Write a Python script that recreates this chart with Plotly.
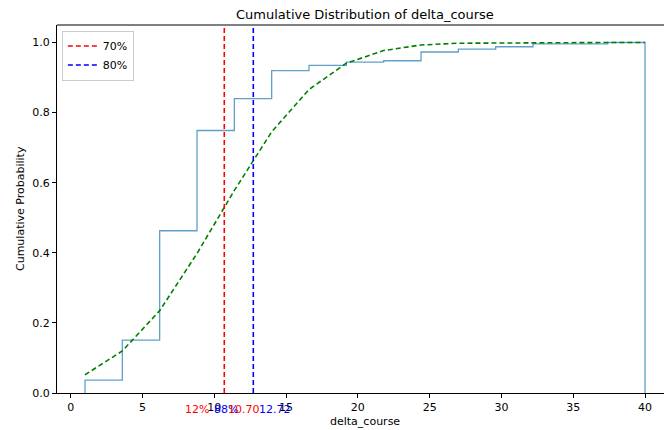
import plotly.graph_objects as go

# ---- data ----
bin_edges = [1.0, 3.6, 6.2, 8.8, 11.4, 14.0, 16.6, 19.2, 21.8, 24.4, 27.0, 29.6, 32.2, 34.8, 37.4, 40.0]
cum_prob = [0.037, 0.151, 0.463, 0.749, 0.840, 0.920, 0.935, 0.944, 0.948, 0.973, 0.981, 0.988, 0.996, 0.996, 1.0]
fit_cdf = [0.052, 0.120, 0.235, 0.398, 0.578, 0.745, 0.866, 0.941, 0.977, 0.993, 0.998, 0.999, 1.0, 1.0, 1.0, 1.0]
p70_value = 10.70
p80_value = 12.72
p70_label = "70%"
p80_label = "80%"
below_labels = ["12%", "88%", "10.70", "12.72"]

FONT = "DejaVu Sans"
Y_MAX = 1.05

# step path of the cumulative histogram (matplotlib histtype='step')
step_x = [bin_edges[0]] + bin_edges[:-1] + [bin_edges[-1], bin_edges[-1]]
step_y = [0.0] + cum_prob + [cum_prob[-1], 0.0]

fig = go.Figure()
fig.add_trace(go.Scatter(
    x=step_x, y=step_y, mode="lines", line_shape="hv",
    line=dict(color="rgba(31,119,180,0.7)", width=1.3),
    showlegend=False, hoverinfo="skip"))
fig.add_trace(go.Scatter(
    x=bin_edges, y=fit_cdf, mode="lines",
    line=dict(color="green", width=1.6, dash="5px,3px"),
    showlegend=False, hoverinfo="skip"))
fig.add_trace(go.Scatter(
    x=[p70_value, p70_value], y=[0, Y_MAX], mode="lines",
    line=dict(color="red", width=1.6, dash="5px,3px"), name=p70_label))
fig.add_trace(go.Scatter(
    x=[p80_value, p80_value], y=[0, Y_MAX], mode="lines",
    line=dict(color="blue", width=1.6, dash="5px,3px"), name=p80_label))

annotations = [
    dict(text="Cumulative Distribution of delta_course", xref="paper", yref="paper",
         x=(365 - 57) / 607, y=1, yshift=11, showarrow=False,
         xanchor="center", yanchor="middle", font=dict(family=FONT, size=13, color="black")),
    dict(text="delta_course", xref="paper", yref="paper",
         x=(365 - 57) / 607, y=0, yshift=-28, showarrow=False,
         xanchor="center", yanchor="middle", font=dict(family=FONT, size=11, color="black")),
    dict(text="Cumulative Probability", xref="paper", yref="paper",
         x=0, xshift=-37, y=0.5, textangle=-90, showarrow=False,
         xanchor="center", yanchor="middle", font=dict(family=FONT, size=11, color="black")),
]
label_specs = [
    (below_labels[0], 8.8, "center", "red"),
    (below_labels[1], 10.82, "center", "blue"),
    (below_labels[2], 10.85, "left", "red"),
    (below_labels[3], 12.98, "left", "blue"),
]
for txt, xv, anc, col in label_specs:
    annotations.append(dict(text=txt, xref="x", yref="paper", x=xv, y=-0.046 / Y_MAX,
                            showarrow=False, xanchor=anc, yanchor="middle",
                            font=dict(family=FONT, size=11, color=col)))

shapes = [dict(type="line", xref="paper", yref="paper", x0=0, x1=1, y0=1, y1=1,
               line=dict(color="black", width=1))]

fig.update_layout(
    width=664, height=430,
    margin=dict(l=57, r=0, t=25, b=37),
    paper_bgcolor="white", plot_bgcolor="white",
    font=dict(family=FONT, size=11, color="black"),
    annotations=annotations, shapes=shapes,
    legend=dict(x=0.008, y=0.985, xanchor="left", yanchor="top",
                bgcolor="rgba(255,255,255,0.8)", bordercolor="#cccccc", borderwidth=1,
                font=dict(family=FONT, size=11), itemwidth=30, tracegroupgap=0),
)
fig.update_xaxes(range=[-0.95, (664 - 70) / 14.375], tickvals=[0, 5, 10, 15, 20, 25, 30, 35, 40],
                 showgrid=False, zeroline=False, showline=True, linecolor="black", linewidth=1,
                 ticks="outside", ticklen=4, tickcolor="black", tickfont=dict(family=FONT, size=11))
fig.update_yaxes(range=[0, Y_MAX], tickvals=[0, 0.2, 0.4, 0.6, 0.8, 1.0],
                 ticktext=["0.0", "0.2", "0.4", "0.6", "0.8", "1.0"],
                 showgrid=False, zeroline=False, showline=True, linecolor="black", linewidth=1,
                 ticks="outside", ticklen=4, tickcolor="black", tickfont=dict(family=FONT, size=11))

fig.write_html("out.html")
